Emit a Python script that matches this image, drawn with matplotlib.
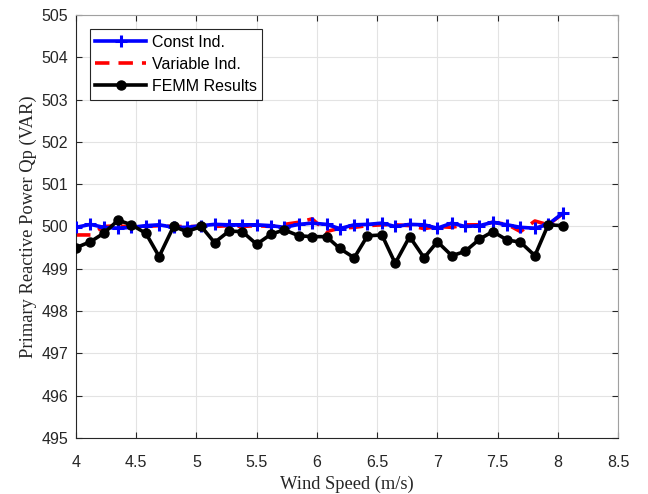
import matplotlib
matplotlib.use("Agg")
import matplotlib.pyplot as plt

wind_speed = [4.00, 4.12, 4.23, 4.35, 4.46, 4.58, 4.69, 4.81, 4.92, 5.04,
              5.15, 5.27, 5.38, 5.50, 5.62, 5.73, 5.85, 5.96, 6.08, 6.19,
              6.31, 6.42, 6.54, 6.65, 6.77, 6.89, 7.00, 7.12, 7.23, 7.35,
              7.46, 7.58, 7.69, 7.81, 7.92, 8.04]

const_ind = [499.98, 500.05, 499.98, 499.96, 499.98, 500.02, 500.04, 499.98, 499.98, 500.02,
             500.05, 500.04, 500.04, 500.04, 500.02, 499.98, 500.05, 500.08, 500.05, 499.95,
             500.04, 500.05, 500.08, 500.00, 500.05, 500.04, 499.96, 500.08, 500.00, 500.02,
             500.10, 500.04, 499.98, 499.96, 500.05, 500.31]

variable_ind = [499.80, 499.80, 500.00, 500.02, 499.98, 500.00, 500.02, 500.00, 500.00, 500.00,
                500.00, 500.02, 500.00, 500.02, 500.00, 500.05, 500.10, 500.18, 499.88, 499.96,
                499.98, 500.02, 500.04, 500.04, 500.02, 499.95, 500.00, 499.98, 500.04, 500.04,
                500.10, 500.05, 499.88, 500.13, 500.04, 500.30]

femm_results = [499.50, 499.64, 499.84, 500.15, 500.04, 499.84, 499.29, 500.00, 499.88, 500.00,
                499.62, 499.89, 499.88, 499.58, 499.82, 499.92, 499.78, 499.76, 499.76, 499.48,
                499.26, 499.78, 499.80, 499.13, 499.76, 499.26, 499.64, 499.31, 499.41, 499.70,
                499.88, 499.68, 499.63, 499.31, 500.04, 500.02]

x_ticks = [4, 4.5, 5, 5.5, 6, 6.5, 7, 7.5, 8, 8.5]
y_ticks = [495, 496, 497, 498, 499, 500, 501, 502, 503, 504, 505]

fig = plt.figure(figsize=(6.48, 4.94), dpi=100)
ax = fig.add_axes([0.1173, 0.1134, 0.8364, 0.8562])

ax.plot(wind_speed, const_ind, color=(0, 0, 1), lw=2.6, marker='+', ms=8, mew=2.2,
        label='Const Ind.', zorder=3)
ax.plot(wind_speed, variable_ind, color=(1, 0, 0), lw=2.6, ls=(0, (4, 2.5)),
        label='Variable Ind.', zorder=2)
ax.plot(wind_speed, femm_results, color='black', lw=2.6, marker='o', ms=6.5,
        label='FEMM Results', zorder=4)

ax.set_xlim(4, 8.5)
ax.set_ylim(495, 505)
ax.set_xticks(x_ticks)
ax.set_xticklabels([f"{t:g}" for t in x_ticks])
ax.set_yticks(y_ticks)
ax.set_yticklabels([str(t) for t in y_ticks])
ax.grid(True, color='#e3e3e3', lw=0.8)
ax.set_axisbelow(True)
for s in ax.spines.values():
    s.set_color('#262626')
    s.set_linewidth(0.8)
ax.spines['right'].set_color('#a0a0a0')
ax.spines['top'].set_color('#a0a0a0')
ax.tick_params(direction='in', length=4, width=0.8, colors='#262626',
               labelsize=11.5, top=True, right=True)
ax.tick_params(axis='x', pad=12)
ax.tick_params(axis='y', pad=5.5)
for lab in ax.get_xticklabels() + ax.get_yticklabels():
    lab.set_family('Liberation Sans')

ax.set_xlabel('Wind Speed (m/s)', family='Liberation Serif', fontsize=13.3, color='#262626', labelpad=4.5)
ax.set_ylabel('Primary Reactive Power Qp (VAR)', family='Liberation Serif', fontsize=13.3, color='#262626', labelpad=3)

leg = ax.legend(loc='upper left', bbox_to_anchor=(0.025, 0.967), prop={'family': 'Liberation Sans', 'size': 11.5},
                frameon=True, fancybox=False, edgecolor='#262626', framealpha=1,
                handlelength=3.2, borderpad=0.35, labelspacing=0.45, handletextpad=0.35, borderaxespad=0)
leg.get_frame().set_linewidth(0.8)

fig.savefig('out.png', dpi=100)
